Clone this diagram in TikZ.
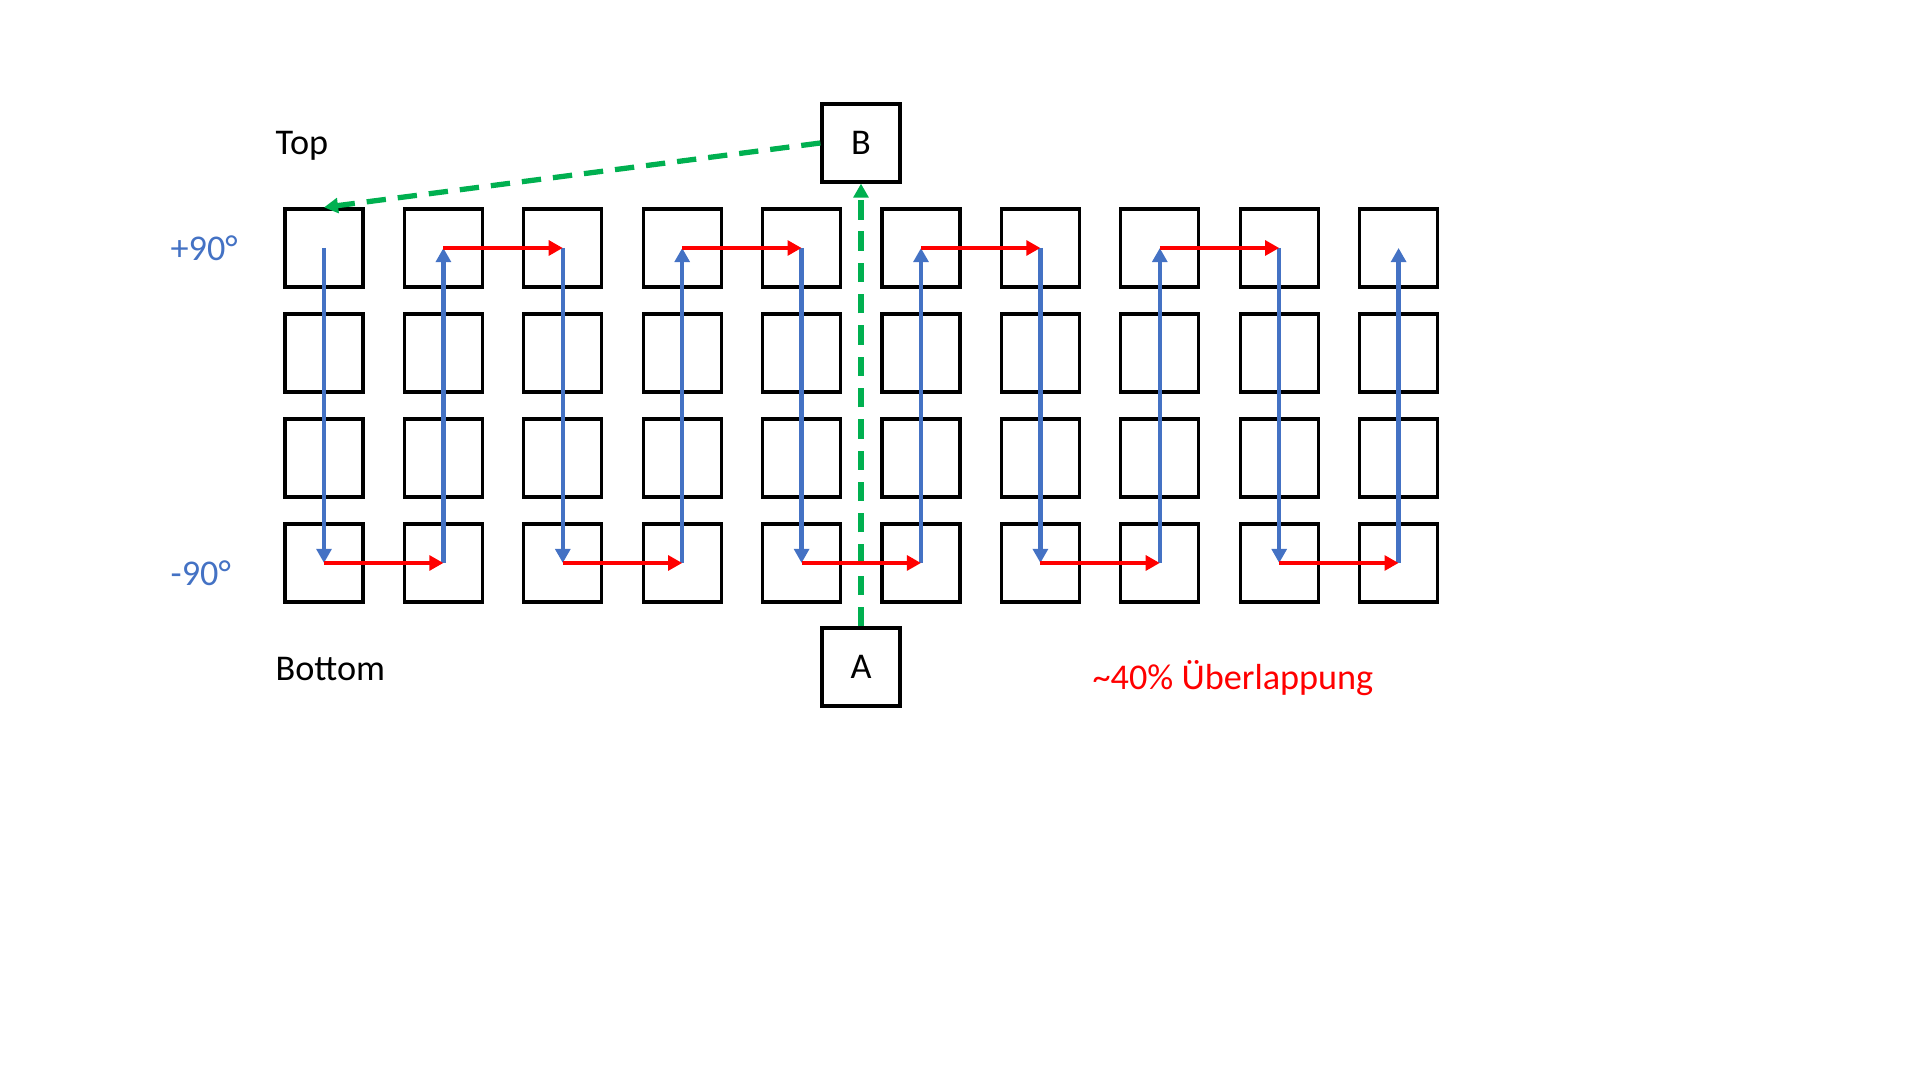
\documentclass[tikz,border=0pt]{standalone}
\usepackage{fontspec}
\setmainfont{Carlito}
\usetikzlibrary{arrows.meta,positioning}

\definecolor{sweepblue}{HTML}{4472C4}
\definecolor{stepred}{HTML}{FF0000}
\definecolor{pathgreen}{HTML}{00B050}

\tikzset{
  tile/.style={draw,line width=0.9pt,minimum size=7.8mm,inner sep=0pt},
  sweep/.style={sweepblue,line width=1.25pt,-{Triangle[length=4pt,width=4.2pt]}},
  stepline/.style={stepred,line width=1.25pt,-{Triangle[length=4pt,width=4.2pt]}},
  transit/.style={pathgreen,line width=1.5pt,dash pattern=on 5.5pt off 3.4pt,
                  -{Triangle[length=4pt,width=4.2pt]}},
  lbl/.style={anchor=west,inner sep=0pt}
}

\begin{document}
\begin{tikzpicture}[x=0.01cm,y=-0.01cm,font=\fontsize{10.3pt}{12pt}\selectfont]
  \useasboundingbox (0,0) rectangle (1920,1080);

  % image grid
  \foreach \i in {1,...,10}
    \foreach \j in {1,...,4}
      \node[tile] (t\i-\j) at ({324+119.4*(\i-1)},{248+105*(\j-1)}) {};

  \node[tile] (B) at (861,143) {B};
  \node[tile] (A) at (861,667) {A};

  \node[lbl]            (top)  at (275,146) {Top};
  \node[lbl]            (bot)  at (275,669) {Bottom};
  \node[lbl,sweepblue]  (up)   at (170,248) {+90°};
  \node[lbl,sweepblue]  (down) at (170,573) {-90°};
  \node[lbl,stepred]    (ovl)  at (1092,678) {\textasciitilde40\% Überlappung};

  % transit A -> B -> start
  \draw[transit] (A.north) -- (B.south);
  \draw[transit] (B.west) -- (t1-1.north);

  % sweeps
  \foreach \i in {1,3,5,7,9}
    \draw[sweep] (t\i-1.center) -- (t\i-4.center);
  \foreach \i in {2,4,6,8,10}
    \draw[sweep] (t\i-4.center) -- (t\i-1.center);

  % steps
  \foreach \i [evaluate=\i as \n using int(\i+1)] in {1,3,5,7,9}
    \draw[stepline] (t\i-4.center) -- (t\n-4.center);
  \foreach \i [evaluate=\i as \n using int(\i+1)] in {2,4,6,8}
    \draw[stepline] (t\i-1.center) -- (t\n-1.center);
\end{tikzpicture}
\end{document}
